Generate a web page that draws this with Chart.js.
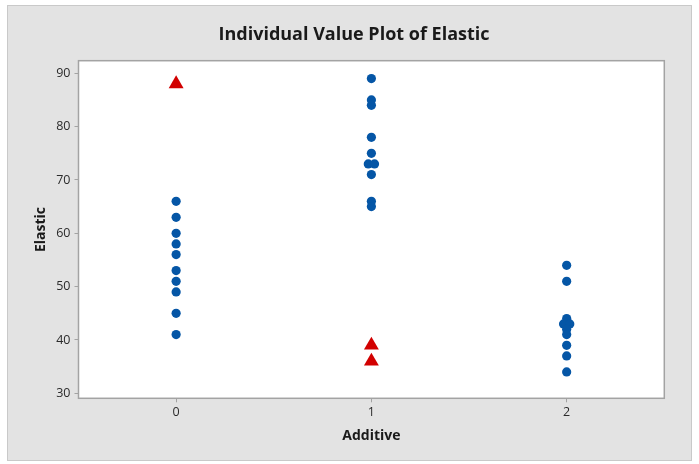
<!DOCTYPE html>
<html>
<head>
<meta charset="utf-8">
<script src="https://cdn.jsdelivr.net/npm/chart.js@4"></script>
<style>
  html,body{margin:0;padding:0;background:#fff;}
  #wrap{width:699px;height:464px;position:relative;}
</style>
</head>
<body>
<div id="wrap"><canvas id="ivp" width="699" height="464"></canvas></div>
<script>
// DATA
const categories = [0, 1, 2];
const elastic0 = [66, 63, 60, 58, 56, 53, 51, 49, 45, 41];
const outliers0 = [88];
const elastic1 = [89, 85, 84, 78, 75, 73, 73, 71, 66, 65];
const outliers1 = [39, 36];
const elastic2 = [54, 51, 44, 43, 43, 42, 41, 39, 37, 34];
const outliers2 = [];
const yTicks = [30, 40, 50, 60, 70, 80, 90];
const xTicks = [0, 1, 2];

// spread tied values sideways a bit, like minitab does
function toPoints(cat, vals){
  const seen = {};
  const counts = {};
  vals.forEach(v => counts[v] = (counts[v] || 0) + 1);
  return vals.map(v => {
    seen[v] = (seen[v] || 0);
    const n = counts[v];
    const off = (seen[v] - (n - 1) / 2) * 0.032;
    seen[v]++;
    return {x: cat + off, y: v};
  });
}

const blue = '#0556a6';
const red = '#d20000';
const font = '"Open Sans", sans-serif';

const dots = [].concat(
  toPoints(categories[0], elastic0),
  toPoints(categories[1], elastic1),
  toPoints(categories[2], elastic2)
);
const outs = [].concat(
  toPoints(categories[0], outliers0),
  toPoints(categories[1], outliers1),
  toPoints(categories[2], outliers2)
);

const frame = {
  id: 'frame',
  beforeDraw(chart){
    const c = chart.ctx;
    const a = chart.chartArea;
    c.save();
    c.fillStyle = '#fff';
    c.fillRect(0, 0, chart.width, chart.height);
    c.fillStyle = '#e3e3e3';
    c.fillRect(7.5, 5.5, 684, 455);
    c.strokeStyle = '#c9c9c9';
    c.lineWidth = 1;
    c.strokeRect(7.5, 5.5, 684, 455);
    c.fillStyle = '#fff';
    c.fillRect(a.left, a.top, a.right - a.left, a.bottom - a.top);
    c.fillStyle = '#1a1a1a';
    c.textAlign = 'center';
    c.textBaseline = 'middle';
    c.font = 'bold 18px ' + font;
    c.fillText('Individual Value Plot of Elastic', 354, 35);
    // axis titles
    c.font = 'bold 14px ' + font;
    c.fillText('Additive', (a.left + a.right) / 2, 436);
    c.translate(41, (a.top + a.bottom) / 2);
    c.rotate(-Math.PI / 2);
    c.fillText('Elastic', 0, 0);
    c.restore();
  },
  afterDraw(chart){
    const c = chart.ctx;
    const a = chart.chartArea;
    c.save();
    c.strokeStyle = '#a3a3a3';
    c.lineWidth = 1.5;
    c.strokeRect(a.left, a.top, a.right - a.left, a.bottom - a.top);
    c.restore();
  }
};

new Chart(document.getElementById('ivp'), {
  type: 'scatter',
  data: {
    datasets: [
      {
        label: 'Elastic',
        data: dots,
        pointStyle: 'circle',
        pointRadius: 4.6,
        pointBackgroundColor: blue,
        pointBorderColor: blue,
        pointBorderWidth: 0
      },
      {
        label: 'Outlier',
        data: outs,
        pointStyle: 'triangle',
        pointRadius: 8.6,
        pointBackgroundColor: red,
        pointBorderColor: red,
        pointBorderWidth: 0
      }
    ]
  },
  options: {
    responsive: false,
    animation: false,
    layout: {padding: {left: 0, right: 34.7, top: 60.7, bottom: 0}},
    plugins: {legend: {display: false}, tooltip: {enabled: false}},
    scales: {
      x: {
        type: 'linear',
        min: -0.5,
        max: 2.5,
        afterBuildTicks: s => { s.ticks = xTicks.map(v => ({value: v})); },
        afterFit: s => { s.height = 65.7; },
        grid: {drawOnChartArea: false, drawTicks: true, tickLength: 4, color: '#a3a3a3'},
        border: {color: '#a3a3a3'},
        ticks: {color: '#2b2b2b', font: {size: 12.5, family: font}, padding: 3}
      },
      y: {
        min: 29.06,
        max: 92.36,
        afterBuildTicks: s => { s.ticks = yTicks.map(v => ({value: v})); },
        afterFit: s => { s.width = 78.5; },
        grid: {drawOnChartArea: false, drawTicks: true, tickLength: 4, color: '#a3a3a3'},
        border: {color: '#a3a3a3'},
        ticks: {color: '#2b2b2b', font: {size: 12.5, family: font}, padding: 4}
      }
    }
  },
  plugins: [frame]
});
</script>
</body>
</html>
